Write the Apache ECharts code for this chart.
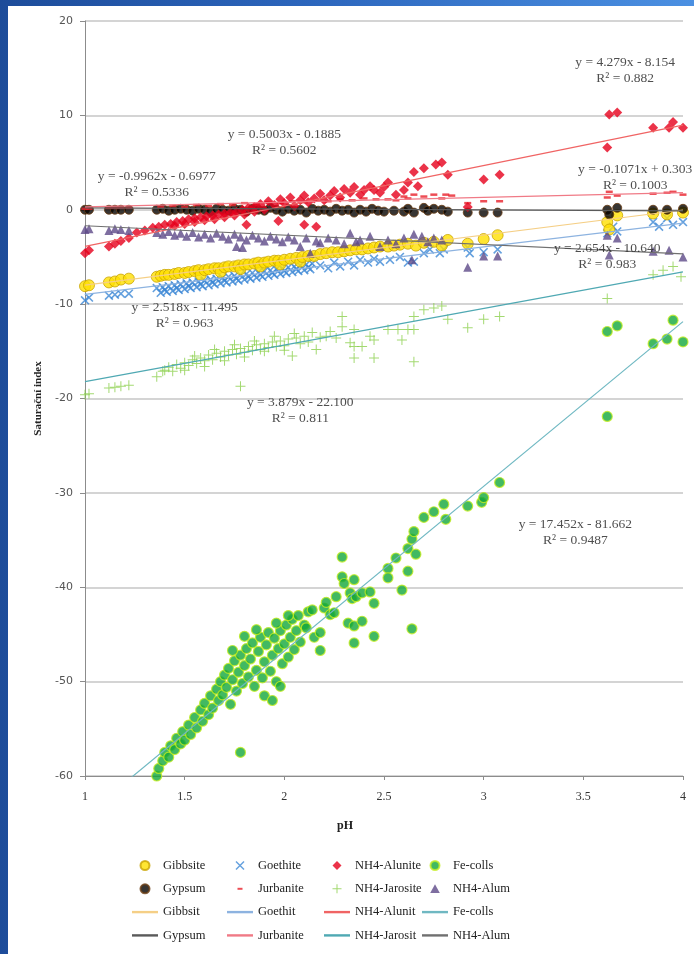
<!DOCTYPE html>
<html>
<head>
<meta charset="utf-8">
<script src="https://cdn.jsdelivr.net/npm/echarts@6/dist/echarts.min.js"></script>
<style>
html, body { margin: 0; padding: 0; width: 694px; height: 954px; overflow: hidden;
  background: linear-gradient(90deg, #1d4c9a 0%, #2c66bd 45%, #4b90e2 100%); }
#chart { position: absolute; left: 8px; top: 6px; width: 686px; height: 948px; background: #fff; }
</style>
</head>
<body>
<div id="chart"></div>
<script>
// pH vs saturation index, one [pH, SI] list per mineral
const gibbsite = [[1.0,-8.1],[1.02,-8.0],[1.12,-7.7],[1.15,-7.6],[1.18,-7.4],[1.22,-7.3],
  [1.36,-7.1],[1.38,-7.0],[1.40,-6.9],[1.42,-6.9],[1.45,-6.8],[1.47,-6.7],[1.50,-6.7],[1.52,-6.6],[1.55,-6.5],[1.57,-6.4],[1.58,-6.9],
  [1.60,-6.4],[1.62,-6.3],[1.65,-6.2],[1.67,-6.2],[1.68,-6.6],[1.70,-6.1],[1.72,-6.0],[1.75,-6.0],[1.77,-5.9],[1.78,-6.3],[1.80,-5.8],
  [1.82,-5.8],[1.85,-5.7],[1.87,-5.6],[1.88,-6.0],[1.90,-5.6],[1.92,-5.5],[1.95,-5.4],[1.97,-5.4],[1.98,-5.8],[2.00,-5.3],[2.03,-5.2],
  [2.06,-5.1],[2.08,-5.5],[2.09,-5.0],[2.12,-4.9],[2.15,-4.9],[2.18,-4.7],[2.21,-4.6],[2.24,-4.5],[2.27,-4.5],[2.30,-4.4],[2.33,-4.3],
  [2.36,-4.2],[2.39,-4.2],[2.42,-4.1],[2.45,-4.0],[2.48,-3.9],[2.52,-3.9],[2.55,-3.8],[2.58,-3.7],[2.62,-3.6],[2.66,-3.8],[2.70,-3.5],
  [2.75,-3.4],[2.79,-3.8],[2.82,-3.2],[2.92,-3.6],[3.00,-3.1],[3.07,-2.7],[3.62,-1.3],[3.63,-2.1],[3.67,-0.6],[3.85,-0.4],[3.92,-0.5],[4.00,-0.3]];

const goethite = [[1.0,-9.6],[1.02,-9.3],[1.12,-9.1],[1.15,-9.0],[1.18,-8.9],[1.22,-8.9],
  [1.36,-8.3],[1.39,-8.2],[1.42,-8.1],[1.45,-8.0],[1.48,-7.9],[1.51,-7.8],[1.54,-7.7],[1.57,-7.6],[1.60,-7.5],[1.63,-7.4],[1.66,-7.3],
  [1.69,-7.2],[1.72,-7.1],[1.75,-7.0],[1.78,-6.9],[1.81,-6.8],[1.84,-6.7],[1.87,-6.6],[1.90,-6.5],[1.93,-6.4],[1.96,-6.3],[1.99,-6.2],
  [2.02,-6.1],[2.05,-6.0],[2.08,-5.9],[2.11,-5.8],[2.14,-5.7],
  [1.38,-8.8],[1.41,-8.7],[1.44,-8.6],[1.47,-8.5],[1.50,-8.4],[1.53,-8.3],[1.56,-8.2],[1.59,-8.1],[1.62,-8.0],[1.65,-7.9],[1.68,-7.8],
  [1.71,-7.7],[1.74,-7.6],[1.77,-7.5],[1.80,-7.4],[1.83,-7.3],[1.86,-7.2],[1.89,-7.1],[1.92,-7.0],[1.95,-6.9],[1.98,-6.8],[2.01,-6.7],
  [2.04,-6.6],[2.07,-6.5],[2.10,-6.4],[2.13,-6.3],
  [1.40,-8.5],[1.46,-8.3],[1.52,-8.1],[1.58,-7.9],[1.64,-7.7],[1.70,-7.5],[1.76,-7.3],[1.82,-7.1],[1.88,-6.9],[1.94,-6.7],[2.00,-6.5],
  [2.06,-6.3],[2.12,-6.1],
  [2.18,-5.9],[2.22,-6.2],[2.25,-5.6],[2.28,-6.0],[2.32,-5.5],[2.35,-5.9],[2.38,-5.3],[2.42,-5.6],[2.45,-5.2],[2.48,-5.5],[2.53,-5.3],
  [2.58,-5.0],[2.62,-5.6],[2.65,-5.5],[2.70,-4.6],[2.73,-4.2],[2.78,-4.6],[2.80,-4.2],[2.92,-4.0],[2.93,-4.6],[3.00,-4.5],[3.07,-4.2],
  [3.62,-2.5],[3.65,-1.8],[3.67,-2.3],[3.85,-1.3],[3.88,-1.8],[3.92,-0.9],[3.95,-1.6],[4.00,-1.3]];

const gypsum = [[1.0,0.0],[1.02,0.0],[1.12,0.0],[1.15,0.0],[1.18,0.0],[1.22,0.0],
  [1.36,0.0],[1.39,0.1],[1.42,-0.1],[1.45,0.0],[1.48,0.1],[1.51,0.0],[1.54,-0.1],[1.57,0.1],[1.60,0.0],[1.63,-0.2],[1.66,0.1],
  [1.69,0.0],[1.72,-0.1],[1.75,0.1],[1.78,0.0],[1.81,-0.2],[1.84,0.1],[1.87,0.0],[1.90,-0.1],[1.93,0.2],[1.96,0.0],[1.99,-0.2],
  [2.02,0.1],[2.05,-0.1],[2.08,0.0],[2.11,-0.3],[2.14,0.1],[2.17,-0.1],[2.20,0.0],[2.23,-0.2],[2.26,0.1],[2.29,-0.1],[2.32,0.0],
  [2.35,-0.3],[2.38,0.0],[2.41,-0.2],[2.44,0.1],[2.47,-0.1],[2.50,-0.2],[2.55,-0.1],[2.60,-0.2],[2.62,0.1],[2.65,-0.3],[2.70,0.2],
  [2.72,-0.1],[2.75,0.1],[2.79,0.0],[2.82,-0.2],[2.92,-0.3],[3.00,-0.3],[3.07,-0.3],[3.62,0.0],[3.63,-0.5],[3.67,0.2],[3.85,0.0],
  [3.92,0.0],[4.00,0.1]];

const jurbanite = [[1.0,0.1],[1.02,0.1],[1.12,0.2],[1.15,0.2],[1.18,0.2],[1.22,0.2],
  [1.38,0.3],[1.44,0.4],[1.50,0.3],[1.56,0.5],[1.62,0.4],[1.68,0.6],[1.74,0.5],[1.80,0.7],[1.86,0.6],[1.92,0.8],[1.98,0.7],[2.04,0.9],
  [2.10,0.8],[2.16,1.0],[2.22,0.9],[2.28,1.1],[2.34,1.0],[2.40,1.2],[2.46,1.1],[2.52,1.1],[2.56,1.0],[2.60,1.4],[2.62,1.2],[2.65,1.6],
  [2.70,1.4],[2.75,1.6],[2.79,1.2],[2.81,1.6],[2.84,1.5],[2.92,0.7],[3.00,0.9],[3.08,0.9],[3.62,1.3],[3.63,1.9],[3.67,1.5],[3.85,1.7],
  [3.92,1.8],[3.95,1.9],[4.00,1.6]];

const nh4Alunite = [[1.0,-4.6],[1.02,-4.3],[1.12,-3.9],[1.15,-3.6],[1.18,-3.3],[1.22,-3.0],
  [1.26,-2.4],[1.30,-2.2],[1.34,-1.9],[1.37,-1.8],[1.40,-1.6],[1.43,-1.5],[1.46,-1.3],[1.49,-1.2],[1.52,-1.0],[1.55,-0.9],[1.58,-0.8],
  [1.61,-0.7],[1.64,-0.6],[1.67,-0.5],[1.70,-0.4],[1.73,-0.3],[1.76,-0.2],[1.79,0.0],[1.82,0.2],[1.85,0.3],
  [1.45,-1.7],[1.50,-1.5],[1.55,-1.3],[1.60,-1.1],[1.65,-1.0],[1.70,-0.8],[1.75,-0.6],[1.80,-0.5],[1.85,-0.2],[1.90,0.0],
  [1.88,0.6],[1.92,0.9],[1.95,0.5],[1.98,1.1],[2.00,0.7],[2.03,1.3],[2.05,0.4],[2.08,1.0],[2.10,1.5],[2.12,0.8],[2.15,1.2],[2.18,1.7],
  [2.20,1.0],[2.23,1.5],[2.25,2.0],[2.28,1.3],[2.30,2.2],[2.33,1.8],[2.35,2.4],[2.38,1.6],[2.40,2.1],[2.43,2.5],[2.45,2.1],[2.48,1.8],
  [2.50,2.4],[1.81,-1.6],[2.10,-1.6],[2.16,-1.8],[1.97,-1.2],
  [2.52,2.9],[2.56,1.6],[2.60,2.1],[2.62,2.9],[2.65,4.0],[2.67,2.5],[2.70,4.4],[2.76,4.8],[2.79,5.0],[2.82,3.7],[2.92,0.3],[3.00,3.2],
  [3.08,3.7],[3.62,6.6],[3.63,10.1],[3.67,10.3],[3.85,8.7],[3.93,8.7],[3.95,9.3],[4.00,8.7]];

const nh4Jarosite = [[1.0,-19.6],[1.02,-19.5],[1.12,-18.9],[1.15,-18.8],[1.18,-18.7],[1.22,-18.6],[1.36,-17.7],[1.39,-17.1],
  [1.40,-17.0],[1.42,-16.7],[1.44,-17.1],[1.46,-16.4],[1.48,-16.8],[1.50,-16.2],[1.52,-16.5],[1.54,-15.9],[1.56,-16.3],[1.58,-15.7],
  [1.60,-16.0],[1.62,-15.4],[1.64,-15.9],[1.66,-15.2],[1.68,-15.6],[1.70,-15.0],[1.72,-15.4],[1.74,-14.8],[1.76,-15.3],[1.78,-18.7],
  [1.78,-14.7],[1.80,-15.1],[1.82,-14.5],[1.84,-14.9],[1.86,-14.3],[1.88,-14.8],[1.90,-14.2],[1.92,-14.6],[1.94,-14.0],[1.96,-14.5],
  [1.98,-13.9],[2.00,-14.4],[2.02,-13.7],[2.04,-15.5],[2.06,-13.6],[2.08,-14.2],[2.10,-13.4],[2.12,-14.0],[2.14,-13.0],[2.16,-14.8],
  [1.50,-17.0],[1.60,-16.6],[1.70,-16.0],[1.80,-15.6],[1.90,-15.0],[2.00,-14.9],[1.55,-15.5],[1.65,-14.8],[1.75,-14.3],[1.85,-13.9],
  [1.95,-13.4],[2.05,-13.1],
  [2.18,-13.5],[2.21,-13.4],[2.23,-12.9],[2.26,-13.6],[2.29,-11.3],[2.29,-12.4],[2.33,-14.1],[2.35,-12.7],[2.35,-14.5],[2.35,-15.7],
  [2.39,-14.5],[2.43,-13.4],[2.45,-13.8],[2.45,-15.7],[2.52,-12.7],[2.57,-12.7],[2.59,-13.8],[2.62,-12.7],[2.65,-11.3],[2.65,-12.7],
  [2.65,-16.1],[2.70,-10.6],[2.75,-10.4],[2.79,-10.2],[2.82,-11.6],[2.92,-12.5],[3.00,-11.6],[3.08,-11.3],[3.62,-9.4],[3.85,-6.9],
  [3.90,-6.4],[3.95,-6.0],[3.99,-7.1]];

const nh4Alum = [[1.0,-2.1],[1.02,-2.0],[1.12,-2.2],[1.15,-2.0],[1.18,-2.1],[1.22,-2.2],
  [1.36,-2.4],[1.39,-2.6],[1.42,-2.3],[1.45,-2.7],[1.48,-2.5],[1.51,-2.8],[1.54,-2.4],[1.57,-2.9],[1.60,-2.6],[1.63,-3.0],[1.66,-2.5],
  [1.69,-2.8],[1.72,-3.1],[1.75,-2.6],[1.76,-3.9],[1.79,-4.0],[1.78,-2.9],[1.81,-3.2],[1.84,-2.7],[1.87,-3.0],[1.90,-3.3],[1.93,-2.8],
  [1.96,-3.1],[1.99,-3.4],[2.02,-2.9],[2.05,-3.2],[2.08,-3.9],[2.11,-3.0],[2.13,-4.6],[2.16,-3.3],[2.18,-3.5],[2.22,-3.0],[2.26,-3.2],
  [2.30,-3.6],[2.33,-2.5],[2.36,-3.4],[2.38,-3.2],[2.43,-2.8],[2.48,-3.9],[2.52,-3.2],[2.56,-3.6],[2.60,-3.0],[2.64,-5.3],[2.65,-2.6],
  [2.69,-2.8],[2.72,-3.4],[2.75,-3.0],[2.79,-3.2],[2.92,-6.1],[3.00,-4.9],[3.07,-4.9],[3.62,-2.7],[3.63,-4.8],[3.67,-3.0],[3.85,-4.4],
  [3.93,-4.3],[4.00,-5.0]];

const feColls = [[1.36,-60.0],[1.37,-59.2],[1.39,-58.4],[1.40,-57.5],[1.42,-58.0],[1.43,-56.8],[1.45,-57.2],[1.46,-56.0],[1.48,-56.6],
  [1.49,-55.3],[1.50,-56.2],[1.52,-54.6],[1.53,-55.6],[1.55,-53.8],[1.56,-54.9],[1.58,-53.0],[1.59,-54.2],[1.60,-52.3],[1.62,-53.5],
  [1.63,-51.5],[1.64,-52.8],[1.66,-50.8],[1.67,-52.0],[1.68,-50.0],[1.69,-51.4],[1.70,-49.3],[1.71,-50.6],[1.72,-48.6],[1.73,-52.4],
  [1.74,-49.8],[1.75,-47.8],[1.76,-51.0],[1.77,-49.0],[1.78,-57.5],[1.78,-47.2],[1.79,-50.2],[1.80,-48.3],[1.81,-46.5],[1.82,-49.5],
  [1.83,-47.6],[1.84,-45.9],[1.85,-50.5],[1.86,-48.8],[1.87,-46.8],[1.88,-45.3],[1.89,-49.6],[1.90,-47.9],[1.91,-46.1],[1.92,-44.8],
  [1.93,-48.9],[1.94,-47.2],[1.95,-45.4],[1.96,-50.0],[1.97,-46.5],[1.98,-44.6],[1.99,-48.1],[2.00,-46.0],[2.01,-44.0],[2.02,-47.4],
  [2.03,-45.3],[2.04,-43.4],[2.05,-46.6],[2.06,-44.6],[2.07,-43.0],[2.08,-45.8],[2.10,-44.0],[2.11,-44.3],[2.12,-42.6],[2.14,-42.4],
  [1.74,-46.7],[1.80,-45.2],[1.86,-44.5],[1.96,-43.8],[2.02,-43.0],[1.90,-51.5],[1.98,-50.5],[1.94,-52.0],
  [2.15,-45.3],[2.18,-44.8],[2.18,-46.7],[2.20,-42.2],[2.21,-41.6],[2.23,-42.9],[2.25,-42.7],[2.26,-41.0],[2.29,-36.8],[2.29,-38.9],
  [2.30,-39.6],[2.32,-43.8],[2.33,-40.6],[2.34,-41.2],[2.35,-39.2],[2.35,-44.1],[2.35,-45.9],[2.36,-41.0],[2.39,-40.6],[2.39,-43.6],
  [2.43,-40.5],[2.45,-41.7],[2.45,-45.2],[2.52,-38.0],[2.52,-39.0],[2.56,-36.9],[2.59,-40.3],[2.62,-35.9],[2.62,-38.3],[2.64,-34.9],
  [2.64,-44.4],[2.65,-34.1],[2.66,-36.5],[2.70,-32.6],[2.75,-32.0],[2.80,-31.2],[2.81,-32.8],[2.92,-31.4],[2.99,-31.0],[3.00,-30.5],
  [3.08,-28.9],[3.62,-21.9],[3.62,-12.9],[3.67,-12.3],[3.85,-14.2],[3.92,-13.7],[3.95,-11.7],[4.00,-14.0]];

// linear trendlines: names, end points at pH 1 and pH 4 (from the equations printed on the chart)
const trendNames = ['Gibbsit', 'Goethit', 'NH4-Alunit', 'Fe-colls ', 'Gypsum ', 'Jurbanite ', 'NH4-Jarosit', 'NH4-Alum '];
const trendStart = [-7.986, -8.977, -3.875, -64.21, 0.196, 0.312, -18.221, -1.694];
const trendEnd = [-0.024, -1.423, 8.962, -11.854, -0.125, 1.813, -6.584, -4.682];
const trendColors = ['#f5cf86', '#8db3e0', '#f06464', '#6fb8c2', '#5a5a5a', '#f07a86', '#4fa9b3', '#707070'];

// trendline equation labels [pH, SI, text]
const trendLabels = [
  [3.71, 14.8, 'y = 4.279x - 8.154\nR² = 0.882'],
  [2.0, 7.1, 'y = 0.5003x - 0.1885\nR² = 0.5602'],
  [1.36, 2.65, 'y = -0.9962x - 0.6977\nR² = 0.5336'],
  [3.76, 3.4, 'y = -0.1071x + 0.303\nR² = 0.1003'],
  [3.62, -5.0, 'y = 2.654x - 10.640\nR² = 0.983'],
  [1.50, -11.2, 'y = 2.518x - 11.495\nR² = 0.963'],
  [2.08, -21.3, 'y = 3.879x - 22.100\nR² = 0.811'],
  [3.46, -34.2, 'y = 17.452x - 81.662\nR² = 0.9487']
];

const X_SYM = 'path://M0,1L1,0L8,7L7,8ZM7,0L8,1L1,8L0,7Z';
const PLUS_SYM = 'path://M4.5,0H5.5V4.5H10V5.5H5.5V10H4.5V5.5H0V4.5H4.5Z';
const PAD = 'M0,0M26,10';
const icons = {
  circle: 'path://' + PAD + 'M17.5,5A4.5,4.5 0 1 1 8.5,5A4.5,4.5 0 1 1 17.5,5Z',
  cross: 'path://' + PAD + 'M8.5,1.5L9.5,0.5L17.5,8.5L16.5,9.5ZM16.5,0.5L17.5,1.5L9.5,9.5L8.5,8.5Z',
  diamond: 'path://' + PAD + 'M13,0.5L17.5,5L13,9.5L8.5,5Z',
  triangle: 'path://' + PAD + 'M13,0.5L17.8,9.3H8.2Z',
  plus: 'path://' + PAD + 'M12.5,0.5H13.5V4.5H17.5V5.5H13.5V9.5H12.5V5.5H8.5V4.5H12.5Z',
  dash: 'path://' + PAD + 'M10.5,4H15.5V6H10.5Z',
  line: 'path://' + PAD + 'M0,3.8H26V6.2H0Z'
};

const serif = "'Liberation Serif', 'Times New Roman', serif";

const series = [
  { name: 'Goethite', type: 'scatter', data: goethite, symbol: X_SYM, symbolSize: 9,
    itemStyle: { color: '#3d88d6' } },
  { name: 'Gibbsite', type: 'scatter', data: gibbsite, symbol: 'circle', symbolSize: 11,
    itemStyle: { color: '#ffe000', borderColor: '#c9a400', borderWidth: 1 } },
  { name: 'Gypsum', type: 'scatter', data: gypsum, symbol: 'circle', symbolSize: 9,
    itemStyle: { color: '#050200', borderColor: '#6a3c12', borderWidth: 1 } },
  { name: 'Jurbanite', type: 'scatter', data: jurbanite, symbol: 'rect', symbolSize: [7, 2.5],
    itemStyle: { color: '#e8202a' } },
  { name: 'NH4-Alunite', type: 'scatter', data: nh4Alunite, symbol: 'diamond', symbolSize: 10,
    itemStyle: { color: '#e6001c' } },
  { name: 'NH4-Jarosite', type: 'scatter', data: nh4Jarosite, symbol: PLUS_SYM, symbolSize: 10,
    itemStyle: { color: '#8ccf4d' } },
  { name: 'NH4-Alum', type: 'scatter', data: nh4Alum, symbol: 'triangle', symbolSize: 9,
    itemStyle: { color: '#5e4a88' } },
  { name: 'Fe-colls', type: 'scatter', data: feColls, symbol: 'circle', symbolSize: 10,
    itemStyle: { color: '#13a73b', borderColor: '#c6ee20', borderWidth: 1.2 } }
];

trendNames.forEach(function (n, i) {
  series.push({
    name: n, type: 'line', symbol: 'none', z: 5, silent: true,
    data: [[1, trendStart[i]], [4, trendEnd[i]]],
    lineStyle: { color: trendColors[i], width: 1.2 },
    itemStyle: { color: trendColors[i] }
  });
});

series.push({
  type: 'scatter', data: trendLabels, symbolSize: 1, z: 10, silent: true,
  itemStyle: { color: 'rgba(0,0,0,0)' },
  label: {
    show: true, position: 'inside', formatter: function (p) { return p.data[2]; },
    color: '#222', fontFamily: serif, fontSize: 13.5, lineHeight: 16, align: 'center'
  },
  labelLayout: { hideOverlap: false }
});

function legendCol(left, items) {
  return {
    orient: 'vertical', left: left, top: 848, height: 130, itemWidth: 26, itemHeight: 10, itemGap: 10.3,
    selectedMode: false,
    textStyle: { fontFamily: serif, fontSize: 12.5, color: '#222', lineHeight: 12 },
    data: items
  };
}

function lineItem(n) { return { name: n, icon: icons.line }; }

const option = {
  animation: false,
  grid: { left: 77, right: 11, top: 15, bottom: 178 },
  xAxis: {
    type: 'value', min: 1, max: 4, interval: 0.5,
    name: 'pH', nameLocation: 'middle', nameGap: 44,
    nameTextStyle: { fontFamily: serif, fontWeight: 'bold', fontSize: 12, color: '#222', padding: [0, 78, 0, 0] },
    axisLine: { show: true, onZero: false, lineStyle: { color: '#8c8c8c' } },
    axisTick: { show: true, length: 4, lineStyle: { color: '#8c8c8c' } },
    axisLabel: { fontFamily: serif, fontSize: 12, color: '#333', margin: 15 },
    splitLine: { show: false }
  },
  yAxis: {
    type: 'value', min: -60, max: 20, interval: 10,
    name: 'Saturační index', nameLocation: 'middle', nameGap: 39, nameRotate: 90,
    nameTextStyle: { fontFamily: serif, fontWeight: 'bold', fontSize: 11, color: '#222' },
    axisLine: { show: true, onZero: false, lineStyle: { color: '#8c8c8c' } },
    axisTick: { show: true, length: 5, lineStyle: { color: '#8c8c8c' } },
    axisLabel: { fontFamily: "'DejaVu Sans', Verdana, sans-serif", fontSize: 11, color: '#555', margin: 12 },
    splitLine: { show: true, lineStyle: { color: '#c6c6c6', width: 1.6 } }
  },
  legend: [
    legendCol(118, [{ name: 'Gibbsite', icon: icons.circle }, { name: 'Gypsum', icon: icons.circle }, lineItem('Gibbsit'), lineItem('Gypsum ')]),
    legendCol(214, [{ name: 'Goethite', icon: icons.cross }, { name: 'Jurbanite', icon: icons.dash }, lineItem('Goethit'), lineItem('Jurbanite ')]),
    legendCol(311, [{ name: 'NH4-Alunite', icon: icons.diamond }, { name: 'NH4-Jarosite', icon: icons.plus }, lineItem('NH4-Alunit'), lineItem('NH4-Jarosit')]),
    legendCol(408, [{ name: 'Fe-colls', icon: icons.circle }, { name: 'NH4-Alum', icon: icons.triangle }, lineItem('Fe-colls '), lineItem('NH4-Alum ')])
  ],
  series: series
};

const chart = echarts.init(document.getElementById('chart'));
chart.setOption(option);
</script>
</body>
</html>
